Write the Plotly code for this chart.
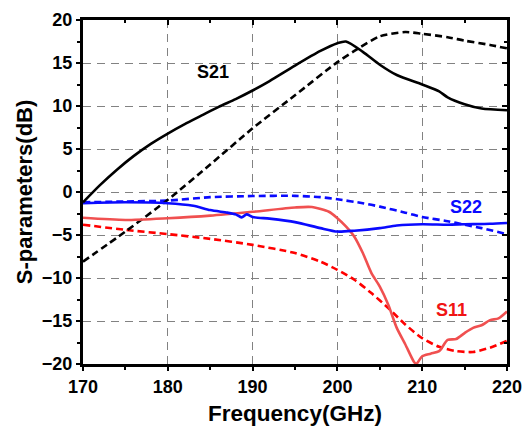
import plotly.graph_objects as go

# ---- data ----
f_s21 = [170, 172, 174, 176, 178, 180, 182, 184, 186, 188, 190, 192, 195, 198, 200, 201, 203, 205, 207, 210, 212, 213, 215, 217, 220]
s21_solid = [-1.2, 0.8, 2.6, 4.2, 5.6, 6.8, 7.9, 8.9, 9.9, 10.8, 11.8, 12.9, 14.7, 16.4, 17.3, 17.5, 16.3, 14.8, 13.6, 12.5, 11.7, 11.0, 10.2, 9.7, 9.5]

f_s21d = [170, 175, 180, 185, 190, 195, 200, 202, 205, 208, 210, 213, 215, 218, 220]
s21_dash = [-8.1, -4.6, -0.9, 3.2, 7.4, 11.25, 15.1, 16.4, 18.1, 18.6, 18.4, 18.0, 17.6, 17.1, 16.7]

f_s22 = [170, 175, 180, 183, 185, 187, 188, 188.7, 189.3, 190, 192, 195, 198, 200, 202, 205, 207, 210, 213, 215, 218, 220]
s22_solid = [-1.3, -1.2, -1.3, -1.6, -2.1, -2.4, -2.6, -2.95, -2.6, -2.9, -3.1, -3.5, -4.2, -4.6, -4.5, -4.2, -3.9, -3.75, -3.8, -3.75, -3.7, -3.6]

f_s22d = [170, 175, 180, 185, 190, 195, 198, 200, 203, 205, 208, 210, 213, 215, 217, 220]
s22_dash = [-1.2, -1.1, -1.0, -0.6, -0.47, -0.45, -0.6, -0.85, -1.3, -1.7, -2.4, -2.9, -3.4, -3.8, -4.2, -4.9]

f_s11 = [170, 175, 180, 185, 190, 195, 197, 199, 200, 201, 202, 203, 204, 205, 206, 207, 208, 209, 209.3, 210, 211, 212, 213, 214, 215, 216, 217, 218, 219, 220]
s11_solid = [-3.0, -3.25, -3.05, -2.75, -2.3, -1.8, -1.75, -2.3, -3.05, -4.0, -5.2, -7.1, -9.4, -11.0, -13.1, -15.8, -17.7, -19.7, -20.0, -19.1, -18.8, -18.5, -17.2, -17.1, -16.4, -15.8, -15.5, -14.9, -14.7, -13.9]

f_s11d = [170, 175, 180, 185, 190, 195, 198, 200, 202, 204, 206, 208, 210, 212, 214, 216, 218, 220]
s11_dash = [-3.8, -4.4, -4.9, -5.45, -6.15, -7.1, -8.1, -9.05, -10.2, -11.75, -13.5, -15.4, -17.0, -18.0, -18.5, -18.6, -18.1, -17.3]

x_range = [170, 220]
y_range = [-20, 20]
x_ticks = [170, 180, 190, 200, 210, 220]
y_ticks = [-20, -15, -10, -5, 0, 5, 10, 15, 20]
labels = [("S21", 185.3, 13.9, "black"), ("S22", 215.2, -1.75, "rgb(10,10,255)"), ("S11", 213.4, -13.7, "rgb(240,20,20)")]

FONT = "Liberation Sans, Arial, sans-serif"
BLACK = "black"
BLUE = "rgb(10,10,255)"
RED_S = "rgb(240,80,80)"
RED_D = "rgb(255,0,0)"
DASH = "7px,4px"

fig = go.Figure()

def add(x, y, color, dash):
    fig.add_trace(go.Scatter(x=x, y=y, mode="lines", showlegend=False,
                             line=dict(color=color, width=2.6, dash=dash, shape="spline", smoothing=0.7),
                             cliponaxis=True))

add(f_s22d, s22_dash, BLUE, DASH)
add(f_s11d, s11_dash, RED_D, DASH)
add(f_s21d, s21_dash, BLACK, DASH)
add(f_s11, s11_solid, RED_S, "solid")
add(f_s22, s22_solid, BLUE, "solid")
add(f_s21, s21_solid, BLACK, "solid")

# empty trace to activate mirrored (inward-tick) axes
fig.add_trace(go.Scatter(x=[], y=[], xaxis="x2", yaxis="y2", showlegend=False))

for txt, x, y, c in labels:
    fig.add_annotation(x=x, y=y, text=txt, showarrow=False,
                       font=dict(family=FONT, size=18, color=c, weight="bold"))

fig.update_layout(
    width=524, height=431,
    margin=dict(l=83, r=17, t=20, b=67),
    paper_bgcolor="white", plot_bgcolor="white",
    font=dict(family=FONT, color="black"),
    xaxis=dict(
        range=x_range, tickvals=x_ticks, ticks="outside", ticklen=4, tickwidth=2, tickcolor="black",
        showline=True, linecolor="black", linewidth=3, zeroline=False, automargin=False,
        showgrid=True, gridcolor="rgb(130,130,130)", griddash="8px,6px", gridwidth=1.3,
        tickfont=dict(family=FONT, size=18, weight="bold"),
        minor=dict(dtick=5, ticks="outside", ticklen=3, tickwidth=2, tickcolor="black", showgrid=False),
        title=dict(text="Frequency(GHz)", font=dict(family=FONT, size=22.5, weight="bold"), standoff=10),
    ),
    yaxis=dict(
        range=y_range, tickvals=y_ticks, ticks="outside", ticklen=4, tickwidth=2, tickcolor="black",
        showline=True, linecolor="black", linewidth=3, zeroline=False, automargin=False,
        showgrid=True, gridcolor="rgb(130,130,130)", griddash="8px,6px", gridwidth=1.3,
        tickfont=dict(family=FONT, size=18, weight="bold"), tickformat="d",
        minor=dict(dtick=2.5, ticks="outside", ticklen=3, tickwidth=2, tickcolor="black", showgrid=False),
        title=dict(text="S-parameters(dB)", font=dict(family=FONT, size=22, weight="bold"), standoff=4),
    ),
    xaxis2=dict(
        range=x_range, overlaying="x", side="top", anchor="y2", tickvals=x_ticks, automargin=False,
        ticks="inside", ticklen=5, tickwidth=2, tickcolor="black", showticklabels=False,
        showline=True, linecolor="black", linewidth=2.5, showgrid=False, zeroline=False,
        minor=dict(dtick=5, ticks="inside", ticklen=3, tickwidth=2, tickcolor="black"),
    ),
    yaxis2=dict(
        range=y_range, overlaying="y", side="right", anchor="x2", tickvals=y_ticks, automargin=False,
        ticks="inside", ticklen=5, tickwidth=2, tickcolor="black", showticklabels=False,
        showline=True, linecolor="black", linewidth=2.5, showgrid=False, zeroline=False,
        minor=dict(dtick=2.5, ticks="inside", ticklen=3, tickwidth=2, tickcolor="black"),
    ),
)

fig.write_html("out.html")
